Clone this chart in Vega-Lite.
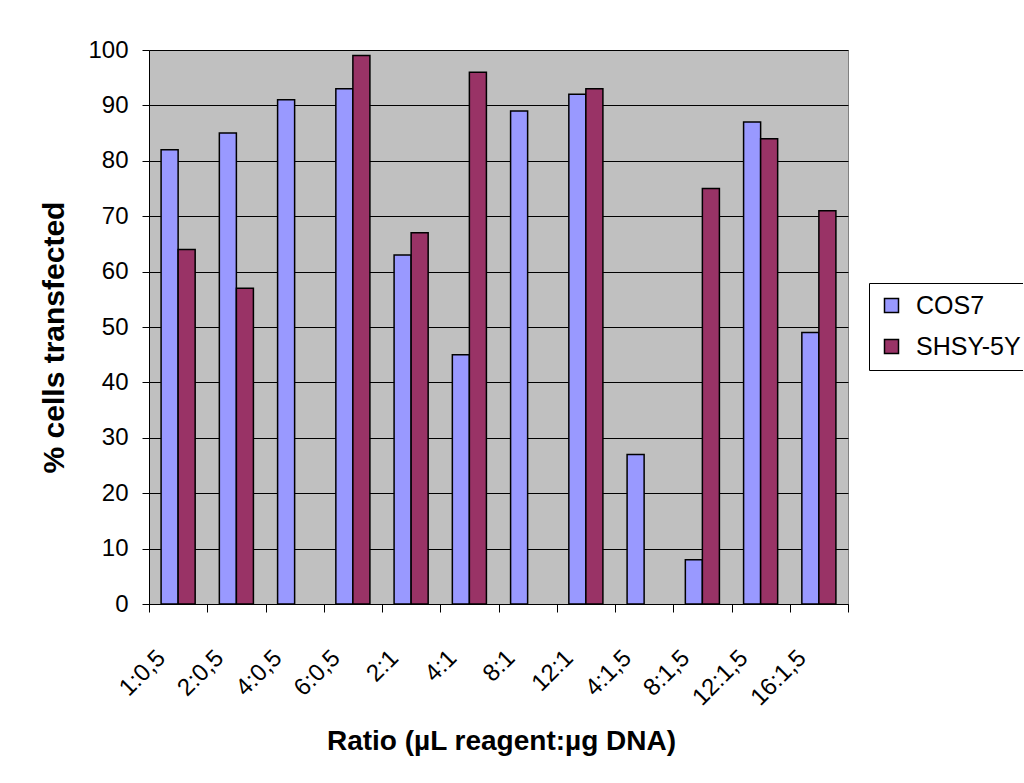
{
  "$schema": "https://vega.github.io/schema/vega-lite/v6.json",
  "width": 699,
  "height": 554,
  "autosize": "none",
  "padding": {"left": 149, "top": 50, "right": 175, "bottom": 179},
  "background": "white",
  "data": {
    "values": [
      {"ratio": "1:0,5", "line": "COS7", "pct": 82},
      {"ratio": "1:0,5", "line": "SHSY-5Y", "pct": 64},
      {"ratio": "2:0,5", "line": "COS7", "pct": 85},
      {"ratio": "2:0,5", "line": "SHSY-5Y", "pct": 57},
      {"ratio": "4:0,5", "line": "COS7", "pct": 91},
      {"ratio": "6:0,5", "line": "COS7", "pct": 93},
      {"ratio": "6:0,5", "line": "SHSY-5Y", "pct": 99},
      {"ratio": "2:1", "line": "COS7", "pct": 63},
      {"ratio": "2:1", "line": "SHSY-5Y", "pct": 67},
      {"ratio": "4:1", "line": "COS7", "pct": 45},
      {"ratio": "4:1", "line": "SHSY-5Y", "pct": 96},
      {"ratio": "8:1", "line": "COS7", "pct": 89},
      {"ratio": "12:1", "line": "COS7", "pct": 92},
      {"ratio": "12:1", "line": "SHSY-5Y", "pct": 93},
      {"ratio": "4:1,5", "line": "COS7", "pct": 27},
      {"ratio": "8:1,5", "line": "COS7", "pct": 8},
      {"ratio": "8:1,5", "line": "SHSY-5Y", "pct": 75},
      {"ratio": "12:1,5", "line": "COS7", "pct": 87},
      {"ratio": "12:1,5", "line": "SHSY-5Y", "pct": 84},
      {"ratio": "16:1,5", "line": "COS7", "pct": 49},
      {"ratio": "16:1,5", "line": "SHSY-5Y", "pct": 71}
    ]
  },
  "mark": {"type": "bar", "stroke": "black", "strokeWidth": 1.5},
  "encoding": {
    "x": {
      "field": "ratio",
      "type": "nominal",
      "sort": ["1:0,5", "2:0,5", "4:0,5", "6:0,5", "2:1", "4:1", "8:1", "12:1", "4:1,5", "8:1,5", "12:1,5", "16:1,5"],
      "scale": {"paddingInner": 0, "paddingOuter": 0},
      "axis": {
        "title": "Ratio (µL reagent:µg DNA)",
        "titleFontSize": 28,
        "titleFontWeight": "bold",
        "titleBaseline": "alphabetic",
        "titleX": 352,
        "titleY": 145,
        "titleAlign": "center",
        "labelAngle": -45,
        "labelAlign": "right",
        "labelBaseline": "middle",
        "labelFontSize": 24,
        "labelPadding": 42,
        "labelOffset": -17,
        "tickBand": "extent",
        "tickSize": 8,
        "grid": false
      }
    },
    "xOffset": {
      "field": "line",
      "type": "nominal",
      "scale": {"domain": ["COS7", "SHSY-5Y"], "paddingInner": 0, "paddingOuter": 0.71}
    },
    "y": {
      "field": "pct",
      "type": "quantitative",
      "scale": {"domain": [0, 100], "nice": false},
      "axis": {
        "title": "% cells transfected",
        "titleFontSize": 30,
        "titleFontWeight": "bold",
        "titleAngle": -90,
        "titleBaseline": "alphabetic",
        "titleAlign": "center",
        "titleX": -86,
        "titleY": 287,
        "values": [0, 10, 20, 30, 40, 50, 60, 70, 80, 90, 100],
        "labelFontSize": 24,
        "labelPadding": 14,
        "tickSize": 7,
        "grid": true,
        "gridColor": "black",
        "gridWidth": 1
      }
    },
    "color": {
      "field": "line",
      "type": "nominal",
      "scale": {"domain": ["COS7", "SHSY-5Y"], "range": ["#9999FF", "#993366"]},
      "legend": {
        "title": null,
        "orient": "none",
        "legendX": 720,
        "legendY": 233,
        "padding": 10,
        "strokeColor": "black",
        "fillColor": "white",
        "symbolType": "square",
        "symbolSize": 196,
        "symbolStrokeColor": "black",
        "symbolStrokeWidth": 1.5,
        "symbolOpacity": 1,
        "labelFontSize": 25,
        "labelOffset": 12,
        "rowPadding": 15
      }
    }
  },
  "config": {
    "font": "Liberation Sans",
    "view": {"fill": "#C0C0C0", "stroke": "#808080", "strokeWidth": 1},
    "axis": {
      "labelFont": "Liberation Sans",
      "titleFont": "Liberation Sans",
      "labelColor": "black",
      "titleColor": "black",
      "domainColor": "black",
      "domainWidth": 1,
      "tickColor": "black",
      "tickWidth": 1
    },
    "legend": {"labelFont": "Liberation Sans", "labelColor": "black"}
  }
}
